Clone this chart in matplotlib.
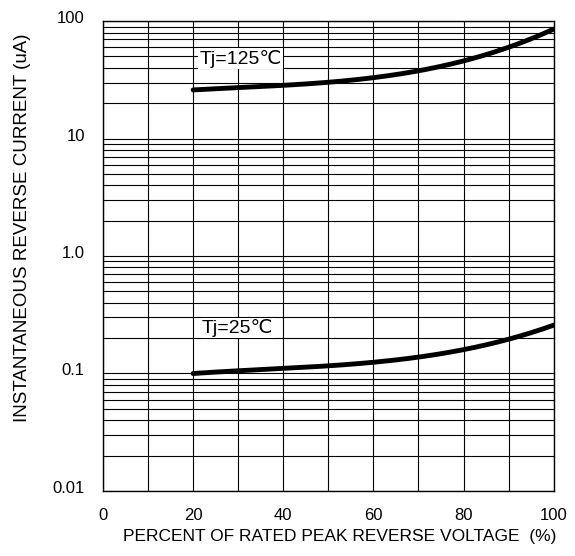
import numpy as np
import matplotlib
matplotlib.use("Agg")
import matplotlib.pyplot as plt
import matplotlib.transforms as mtransforms
from matplotlib.ticker import FixedLocator, NullFormatter

plt.rcParams['font.family'] = ['Liberation Sans', 'DejaVu Sans']

# Data
pct = [20, 30, 40, 50, 60, 70, 80, 90, 100]
ir_125 = [25.9, 27.3, 28.4, 29.8, 33.2, 38.3, 45.0, 60.4, 85.5]
ir_25 = [0.100, 0.106, 0.109, 0.116, 0.126, 0.139, 0.158, 0.195, 0.259]

x_ticks = [0, 20, 40, 60, 80, 100]
y_ticks = [0.01, 0.1, 1.0, 10, 100]
y_labels = ["0.01", "0.1", "1.0", "10", "100"]

fig = plt.figure(figsize=(5.75, 5.56), dpi=100)
ax = fig.add_axes([0.179, 0.117, 0.784, 0.845])

ax.set_yscale("log")
ax.set_xlim(0, 100)
ax.set_ylim(0.01, 100)

# smooth curves through the read points (in log space)
xs = np.linspace(20, 100, 200)
for ys in (ir_125, ir_25):
    coef = np.polyfit(pct, np.log10(ys), 3)
    ax.plot(xs, 10 ** np.polyval(coef, xs), color="black", lw=3.5,
            solid_capstyle="round", zorder=4)

ax.set_xticks(x_ticks)
ax.xaxis.set_minor_locator(FixedLocator(range(0, 101, 10)))
ax.set_yticks(y_ticks)
ax.set_yticklabels(y_labels)
ax.yaxis.set_minor_locator(FixedLocator(
    [m * 10.0 ** e for e in range(-2, 2) for m in range(2, 10)]))
ax.yaxis.set_minor_formatter(NullFormatter())

ax.grid(True, which="both", color="black", lw=0.8)
ax.tick_params(which="both", length=0, labelsize=12)
ax.tick_params(axis="y", pad=13)
ax.tick_params(axis="x", pad=12)
for s in ax.spines.values():
    s.set_linewidth(1.0)

# y tick labels sit a little above their grid lines
shift = mtransforms.ScaledTranslation(0, 4 / 100, fig.dpi_scale_trans)
for lbl in ax.get_yticklabels():
    lbl.set_transform(lbl.get_transform() + shift)

ax.text(21.5, 48, "Tj=125℃", fontsize=14, va="center", ha="left",
        bbox=dict(facecolor="white", edgecolor="none", pad=1), zorder=5)
ax.text(22, 0.244, "Tj=25℃", fontsize=14, va="center", ha="left",
        bbox=dict(facecolor="white", edgecolor="none", pad=1), zorder=5)

ax.set_xlabel("PERCENT OF RATED PEAK REVERSE VOLTAGE  (%)", fontsize=12.5)
ax.xaxis.set_label_coords(0.525, -0.08)
ax.set_ylabel("INSTANTANEOUS REVERSE CURRENT (uA)", fontsize=13.5)
ax.yaxis.set_label_coords(-0.16, 0.56)

fig.savefig("out.png", dpi=100)
